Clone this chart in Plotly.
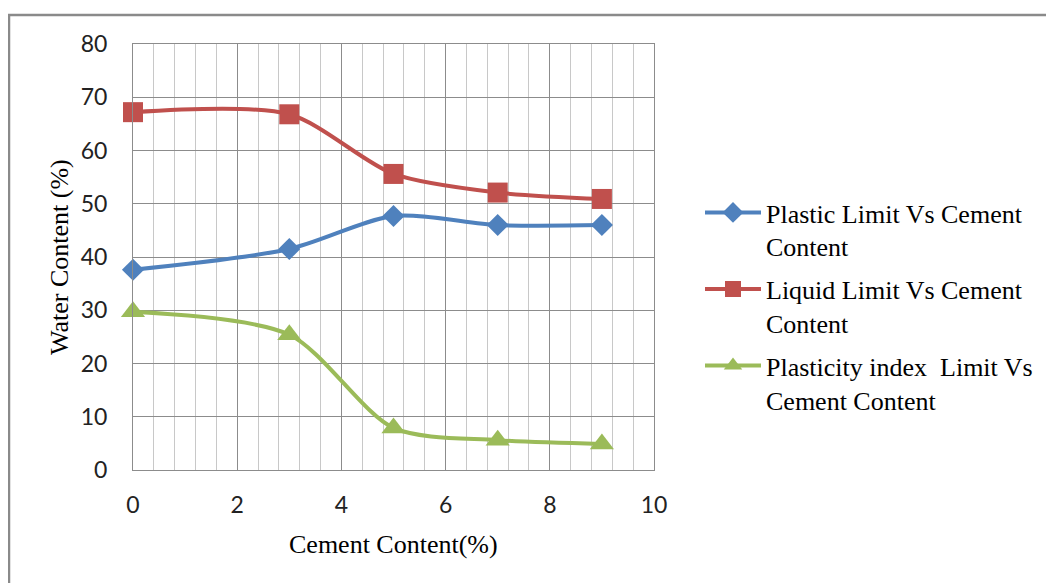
import plotly.graph_objects as go

cement = [0, 3, 5, 7, 9]
plastic_limit = [37.6, 41.5, 47.7, 46.0, 46.0]
liquid_limit = [67.2, 66.8, 55.6, 52.1, 50.9]
plasticity_index = [29.7, 25.4, 7.9, 5.6, 4.9]

names = ["Plastic Limit Vs Cement<br>Content",
         "Liquid Limit Vs Cement<br>Content",
         "Plasticity index  Limit Vs<br>Cement Content"]
colors = ["#4F81BD", "#C0504D", "#9BBB59"]
symbols = ["diamond", "square", "triangle-up"]
sizes = [17, 20, 21]

fig = go.Figure()
for i, (ys, nm, c, s, sz) in enumerate(zip([plastic_limit, liquid_limit, plasticity_index], names, colors, symbols, sizes)):
    fig.add_trace(go.Scatter(
        x=cement, y=ys, name=nm, mode="lines+markers", legendgroup=f"g{i}",
        line=dict(color=c, width=4, shape="spline", smoothing=0.8),
        marker=dict(symbol=s, size=sz, color=c),
        cliponaxis=False,
    ))

OFF = 7  # page offset of the figure
W, H = 1054, 583
L, T = 132 - OFF, 43 - OFF
pw, ph = 521, 426
R, B = L + pw, T + ph

def px(page_x):
    return (page_x - OFF - L) / pw

def py(page_y):
    return (B - (page_y - OFF)) / ph

serif = dict(family="Liberation Serif", size=26, color="#000")

fig.update_layout(
    width=W, height=H,
    margin=dict(l=L, r=W - R, t=T, b=H - B, autoexpand=False),
    paper_bgcolor="white", plot_bgcolor="white",
    showlegend=True,
    legend=dict(x=px(699), y=py(188), xanchor="left", yanchor="top", valign="top",
                font=serif, itemwidth=56, tracegroupgap=6, bgcolor="rgba(0,0,0,0)"),
    xaxis=dict(range=[0, 10], dtick=2, tick0=0, showgrid=True, gridcolor="#8c8c8c", gridwidth=1,
               minor=dict(dtick=0.4, tick0=0, showgrid=True, gridcolor="#c8c8c8", gridwidth=1),
               showline=True, linecolor="#8c8c8c", linewidth=1, mirror=True,
               zeroline=False, ticks="", ticklabelstandoff=14,
               tickfont=dict(family="Lato", size=23, color="#222")),
    yaxis=dict(range=[0, 80], dtick=10, showgrid=True, gridcolor="#8c8c8c", gridwidth=1,
               showline=True, linecolor="#8c8c8c", linewidth=1, mirror=True,
               zeroline=False, ticks="", ticklabelstandoff=20,
               tickfont=dict(family="Lato", size=23, color="#222")),
    annotations=[
        dict(text="Cement Content(%)", xref="paper", yref="paper", x=px(392), y=py(543),
             xanchor="center", yanchor="middle", showarrow=False, font=serif),
        dict(text="Water Content (%)", xref="paper", yref="paper", x=px(58), y=py(256),
             xanchor="center", yanchor="middle", showarrow=False, textangle=-90, font=serif),
    ],
    shapes=[dict(type="rect", xref="paper", yref="paper",
                 x0=px(8), x1=px(1070), y0=py(14), y1=py(600),
                 line=dict(color="#8a8a8a", width=2.5), fillcolor="rgba(0,0,0,0)", layer="below")],
)

fig.write_html("out.html")
